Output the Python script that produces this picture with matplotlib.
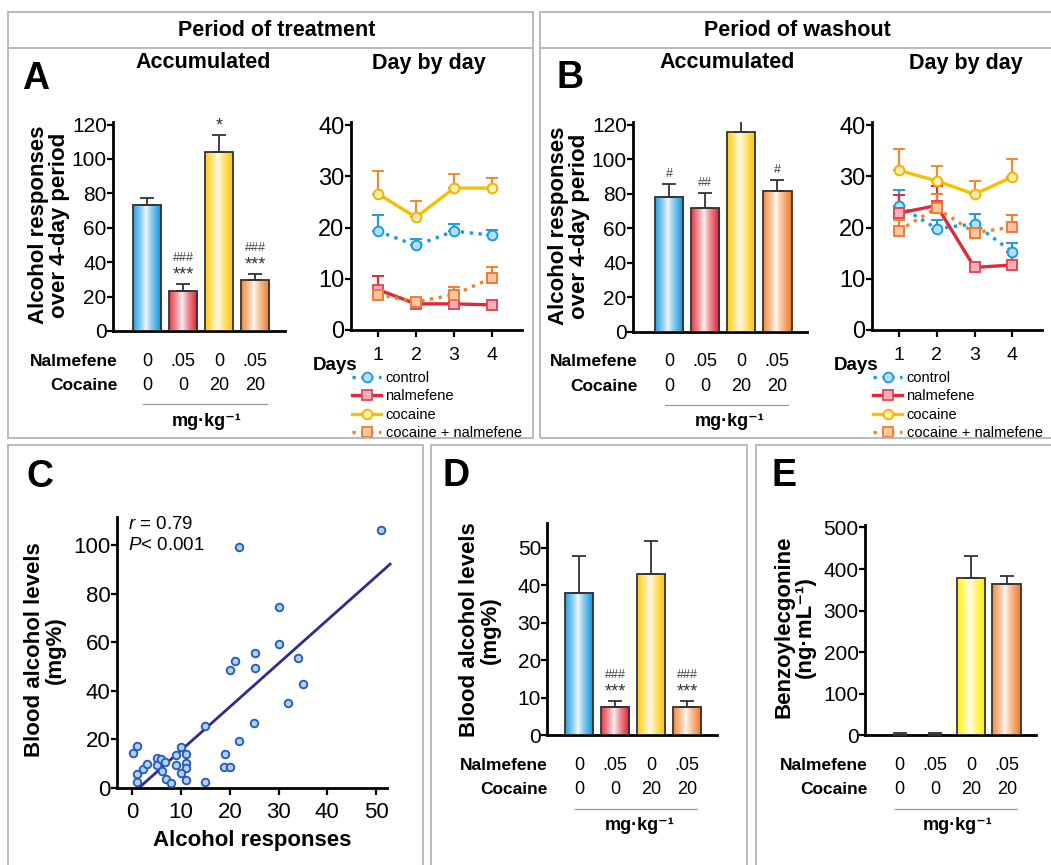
import numpy as np
import matplotlib
matplotlib.use("Agg")
import matplotlib.pyplot as plt
from matplotlib.patches import Rectangle
from matplotlib.lines import Line2D
from matplotlib.transforms import blended_transform_factory
from matplotlib.colors import to_rgb

plt.rcParams['font.family'] = ['Liberation Sans', 'DejaVu Sans']
plt.rcParams['mathtext.fontset'] = 'custom'
plt.rcParams['mathtext.rm'] = 'Liberation Sans'
plt.rcParams['mathtext.it'] = 'Liberation Sans:italic'

# ---- data ----
groups = ["control", "nalmefene", "cocaine", "cocaine + nalmefene"]
nalm_doses = ["0", ".05", "0", ".05"]
coc_doses = ["0", "0", "20", "20"]

treat_acc = [73.5, 23.2, 104.0, 29.5]
treat_acc_err = [4.0, 4.4, 10.0, 3.8]
treat_acc_stars = ["", "***", "*", "***"]
treat_acc_hash = ["", "###", "", "###"]

wash_acc = [78.3, 71.6, 115.5, 81.6]
wash_acc_err = [7.0, 8.6, 9.8, 6.2]
wash_acc_stars = ["", "", "", ""]
wash_acc_hash = ["#", "##", "", "#"]

days = [1, 2, 3, 4]
treat_control = [19.3, 16.5, 19.3, 18.5]
treat_control_err = [3.2, 1.3, 1.3, 1.1]
treat_nalm = [7.9, 5.1, 5.1, 4.9]
treat_nalm_err = [2.6, 0.4, 0.4, 0.4]
treat_coc = [26.6, 22.0, 27.7, 27.7]
treat_coc_err = [4.5, 3.2, 2.8, 2.0]
treat_combo = [6.9, 5.5, 6.9, 10.2]
treat_combo_err = [0.5, 0.7, 1.4, 2.1]

wash_control = [24.3, 19.8, 20.7, 15.2]
wash_control_err = [3.1, 1.7, 2.0, 1.8]
wash_nalm = [22.8, 24.3, 12.2, 12.7]
wash_nalm_err = [3.6, 3.8, 0.4, 2.6]
wash_coc = [31.2, 29.1, 26.5, 29.9]
wash_coc_err = [4.1, 3.0, 2.5, 3.5]
wash_combo = [19.4, 23.8, 19.0, 20.1]
wash_combo_err = [2.0, 2.8, 1.0, 2.4]

alc_responses = [51.1, 21.9, 30.2, 30.1, 25.2, 21.1, 20.0, 25.2, 34.1, 35.1,
                 32.0, 25.0, 15.0, 21.9, 19.0, 18.8, 20.0, 15.0, 0.1, 1.0,
                 1.0, 1.0, 2.1, 3.1, 5.0, 5.0, 5.9, 6.8, 6.1, 7.0,
                 8.0, 9.0, 9.0, 10.0, 11.0, 11.0, 11.1, 10.0, 11.1]
blood_alcohol = [106.3, 99.3, 74.4, 59.1, 55.6, 52.4, 48.6, 49.4, 53.4, 42.9,
                 34.8, 26.7, 25.3, 19.1, 14.0, 8.7, 8.7, 2.2, 14.2, 17.3,
                 5.6, 2.2, 7.8, 9.6, 12.1, 9.4, 11.7, 10.6, 6.9, 3.4,
                 1.8, 9.2, 13.3, 16.6, 14.0, 10.0, 8.3, 5.9, 3.2]
fit_slope, fit_intercept = 1.79, -2.5
fit_range = [1.4, 52.9]

blood_levels = [37.9, 7.5, 42.9, 7.5]
blood_levels_err = [9.9, 1.7, 8.8, 1.7]
blood_stars = ["", "***", "", "***"]
blood_hash = ["", "###", "", "###"]

benzo = [0, 0, 378, 364]
benzo_err = [6, 6, 54, 19]

# ---- styling ----
W, H = 1051, 865
fig = plt.figure(figsize=(W / 100, H / 100), dpi=100)

def fx(px):
    return px / W

def fy(py):
    return 1 - py / H

def px_axes(l, t, r, b):
    return fig.add_axes([l / W, 1 - b / H, (r - l) / W, (b - t) / H])

BAR_COLS = ["#1898dc", "#e02a3a", "#ffc800", "#f08232"]
BAR_COLS_E = ["#1898dc", "#e02a3a", "#fff000", "#f08232"]
GREY = "#b4b4b4"


def frame(ax, ylabsize=14):
    for s in ("top", "right"):
        ax.spines[s].set_visible(False)
    for s in ("left", "bottom"):
        ax.spines[s].set_linewidth(2)
    ax.tick_params(axis="y", length=4, width=1.6, pad=0.5, labelsize=ylabsize)


def grad_bar(ax, x, h, color, w=0.8):
    if h > 0:
        c = np.array(to_rgb(color))
        t = np.linspace(0, 1, 90)
        mix = np.clip(np.abs(t - 0.45) / 0.5, 0, 1) ** 0.8
        mix = 0.04 + 0.96 * mix
        row = (1 - mix)[:, None] * np.ones(3) + mix[:, None] * c
        ax.imshow(row[None, :, :], extent=[x - w / 2, x + w / 2, 0, h],
                  aspect="auto", interpolation="bilinear", zorder=2)
        ax.add_patch(Rectangle((x - w / 2, 0), w, h, fill=False,
                               ec="#333333", lw=1.3, zorder=3))


def bar_panel(ax, vals, errs, cols, stars, hashes, xlim, ylim, yticks):
    for i, (v, e) in enumerate(zip(vals, errs)):
        ax.errorbar(i, v, yerr=[[0], [e]], fmt="none", ecolor="#333333",
                    elinewidth=1.3, capsize=5, capthick=1.3, zorder=4)
        grad_bar(ax, i, v, cols[i])
        top = v + e
        if stars[i]:
            ax.annotate(stars[i], (i, top), xytext=(0, 0), textcoords="offset points",
                        ha="center", va="bottom", fontsize=13, color="#333")
            if hashes[i]:
                ax.annotate(hashes[i], (i, top), xytext=(0, 14), textcoords="offset points",
                            ha="center", va="bottom", fontsize=9, color="#444")
        elif hashes[i]:
            ax.annotate(hashes[i], (i, top), xytext=(0, 3), textcoords="offset points",
                        ha="center", va="bottom", fontsize=9, color="#444")
    ax.set_xlim(*xlim)
    ax.set_ylim(*ylim)
    ax.set_yticks(yticks)
    ax.set_xticks([])
    frame(ax, ylabsize=15)


def dose_rows(ax, lab_right, y_nal, y_coc, y_line, line_l, line_r, unit_x):
    tr = blended_transform_factory(ax.transData, fig.transFigure)
    fig.text(fx(lab_right), fy(y_nal), "Nalmefene", ha="right", va="center",
             fontweight="bold", fontsize=12.5)
    fig.text(fx(lab_right), fy(y_coc), "Cocaine", ha="right", va="center",
             fontweight="bold", fontsize=12.5)
    for i, (n, c) in enumerate(zip(nalm_doses, coc_doses)):
        ax.text(i, fy(y_nal), n, transform=tr, ha="center", va="center", fontsize=13)
        ax.text(i, fy(y_coc), c, transform=tr, ha="center", va="center", fontsize=13)
    fig.add_artist(Line2D([fx(line_l), fx(line_r)], [fy(y_line)] * 2,
                          color="#999999", lw=0.9))
    fig.text(fx(unit_x), fy(y_line + 17), "mg·kg⁻¹", ha="center", va="center",
             fontweight="bold", fontsize=13)


LINE_STY = {
    "control": dict(color="#1e9be0", ls=":", marker="o", mfc="#b5e0f6", mec="#1e9be0", ecol="#1e9be0"),
    "nalmefene": dict(color="#e0283a", ls="-", marker="s", mfc="#f5b0b8", mec="#e04a5a", ecol="#e0283a"),
    "cocaine": dict(color="#f8be00", ls="-", marker="o", mfc="#fdeeb0", mec="#f0b400", ecol="#f08a2a"),
    "cocaine + nalmefene": dict(color="#f2802a", ls=":", marker="s", mfc="#fbc8a0", mec="#f07a3a", ecol="#f2802a"),
}


def day_panel(ax, series, days_right, legend_x):
    for name, (vals, errs) in zip(groups, series):
        st = LINE_STY[name]
        ax.errorbar(days, vals, yerr=[np.zeros(len(errs)), errs], color=st["color"],
                    ls=st["ls"], lw=2.4, marker=st["marker"], ms=7, mfc=st["mfc"],
                    mec=st["mec"], mew=1.4, ecolor=st["ecol"], elinewidth=1.6,
                    capsize=4, capthick=1.6, zorder=3)
    ax.set_xlim(0.29, 4.77)
    ax.set_ylim(0, 40.6)
    ax.set_yticks([0, 10, 20, 30, 40])
    ax.set_xticks(days)
    frame(ax, ylabsize=17)
    ax.tick_params(axis="x", length=5, width=1.6, pad=7, labelsize=14)
    fig.text(fx(days_right), fy(366), "Days", ha="right", va="center",
             fontweight="bold", fontsize=13.5)
    handles = [Line2D([], [], color=LINE_STY[g]["color"], ls=LINE_STY[g]["ls"], lw=2.4,
                      marker=LINE_STY[g]["marker"], ms=7, mfc=LINE_STY[g]["mfc"],
                      mec=LINE_STY[g]["mec"], mew=1.3) for g in groups]
    ax.legend(handles, groups, loc="upper left", bbox_to_anchor=(fx(legend_x), fy(371)),
              bbox_transform=fig.transFigure, frameon=False, fontsize=10.5,
              handlelength=2.0, handletextpad=0.3, labelspacing=0.3,
              borderpad=0, borderaxespad=0, numpoints=1)


# ---- boxes and headers ----
def box(l, t, r, b):
    fig.add_artist(Rectangle((fx(l), fy(b)), fx(r) - fx(l), fy(t) - fy(b),
                             transform=fig.transFigure, fill=False, ec=GREY, lw=1.3))

box(8, 12, 533, 438)
box(540, 12, 1060, 438)
box(8, 445, 423, 875)
box(431, 445, 747, 875)
box(756, 445, 1060, 875)
fig.add_artist(Line2D([fx(8), fx(533)], [fy(48)] * 2, color=GREY, lw=1.3))
fig.add_artist(Line2D([fx(540), fx(1060)], [fy(48)] * 2, color=GREY, lw=1.3))

hdr = dict(ha="center", va="center", fontweight="bold", fontsize=15.5)
fig.text(fx(277), fy(30), "Period of treatment", **hdr)
fig.text(fx(797), fy(30), "Period of washout", **hdr)
fig.text(fx(203), fy(63), "Accumulated", **hdr)
fig.text(fx(429), fy(63), "Day by day", **hdr)
fig.text(fx(727), fy(63), "Accumulated", **hdr)
fig.text(fx(966), fy(63), "Day by day", **hdr)

lab = dict(ha="center", va="center", fontweight="bold", fontsize=27)
fig.text(fx(36), fy(79), "A", **lab)
fig.text(fx(570), fy(78), "B", **lab)
fig.text(fx(40), fy(477), "C", **lab)
fig.text(fx(456), fy(476), "D", **lab)
fig.text(fx(784), fy(476), "E", **lab)

ylab = dict(ha="center", va="center", rotation=90, fontweight="bold",
            fontsize=16, multialignment="center", linespacing=1.0)
fig.text(fx(49), fy(225), "Alcohol responses\nover 4-day period", **ylab)
fig.text(fx(569), fy(226), "Alcohol responses\nover 4-day period", **ylab)
fig.text(fx(45), fy(650), "Blood alcohol levels\n(mg%)", **ylab)
fig.text(fx(480), fy(630), "Blood alcohol levels\n(mg%)", **ylab)
fig.text(fx(795), fy(627), "Benzoylecgonine\n(ng·mL⁻¹)", **ylab)

# ---- A accumulated ----
axA = px_axes(113, 122, 285, 331)
bar_panel(axA, treat_acc, treat_acc_err, BAR_COLS, treat_acc_stars, treat_acc_hash,
          (-0.944, 3.833), (0, 121.5), [0, 20, 40, 60, 80, 100, 120])
dose_rows(axA, 118, 361, 386, 404, 143, 267, 207)

# ---- A day by day ----
axA2 = px_axes(350.7, 122, 521.7, 330)
day_panel(axA2, [(treat_control, treat_control_err), (treat_nalm, treat_nalm_err),
                 (treat_coc, treat_coc_err), (treat_combo, treat_combo_err)], 357, 352)

# ---- B accumulated ----
axB = px_axes(633, 122, 807, 331.7)
bar_panel(axB, wash_acc, wash_acc_err, BAR_COLS, wash_acc_stars, wash_acc_hash,
          (-1.0, 3.83), (0, 121.5), [0, 20, 40, 60, 80, 100, 120])
dose_rows(axB, 638, 361, 387, 405, 665, 788, 730)

# ---- B day by day ----
axB2 = px_axes(871.7, 122, 1041.7, 330)
day_panel(axB2, [(wash_control, wash_control_err), (wash_nalm, wash_nalm_err),
                 (wash_coc, wash_coc_err), (wash_combo, wash_combo_err)], 878, 873)

# ---- C scatter ----
axC = px_axes(116.7, 517.3, 386.7, 787.7)
axC.scatter(alc_responses, blood_alcohol, s=30, facecolor="#a8d4f4",
            edgecolor="#2a55b5", linewidths=1.3, zorder=3, clip_on=False)
fx_line = np.array(fit_range)
axC.plot(fx_line, fit_slope * fx_line + fit_intercept, color="#2c2c8c", lw=2, zorder=2,
         clip_on=False)
axC.set_xlim(-3.2, 52.2)
axC.set_ylim(0, 111.5)
axC.set_xticks([0, 10, 20, 30, 40, 50])
axC.set_yticks([0, 20, 40, 60, 80, 100])
frame(axC, ylabsize=16)
axC.tick_params(axis="x", length=5, width=1.6, pad=5, labelsize=16)
axC.set_xlabel("Alcohol responses", fontweight="bold", fontsize=16, labelpad=5)
axC.text(0.04, 0.975, r"$\it{r}$ = 0.79", transform=axC.transAxes, ha="left", va="center",
         fontsize=13.5)
axC.text(0.04, 0.895, r"$\it{P}$< 0.001", transform=axC.transAxes, ha="left", va="center",
         fontsize=13.5)

# ---- D blood alcohol ----
axD = px_axes(547.3, 523.3, 716.7, 735.3)
bar_panel(axD, blood_levels, blood_levels_err, BAR_COLS, blood_stars, blood_hash,
          (-0.88, 3.825), (0, 56.5), [0, 10, 20, 30, 40, 50])
dose_rows(axD, 548, 765, 790, 809, 575, 697, 640)

# ---- E benzoylecgonine ----
axE = px_axes(865, 525, 1036, 735.3)
bar_panel(axE, benzo, benzo_err, BAR_COLS_E, ["", "", "", ""], ["", "", "", ""],
          (-0.97, 3.82), (0, 506), [0, 100, 200, 300, 400, 500])
dose_rows(axE, 868, 765, 790, 809, 895, 1017, 958)

fig.savefig("out.png", dpi=100, facecolor="white")
